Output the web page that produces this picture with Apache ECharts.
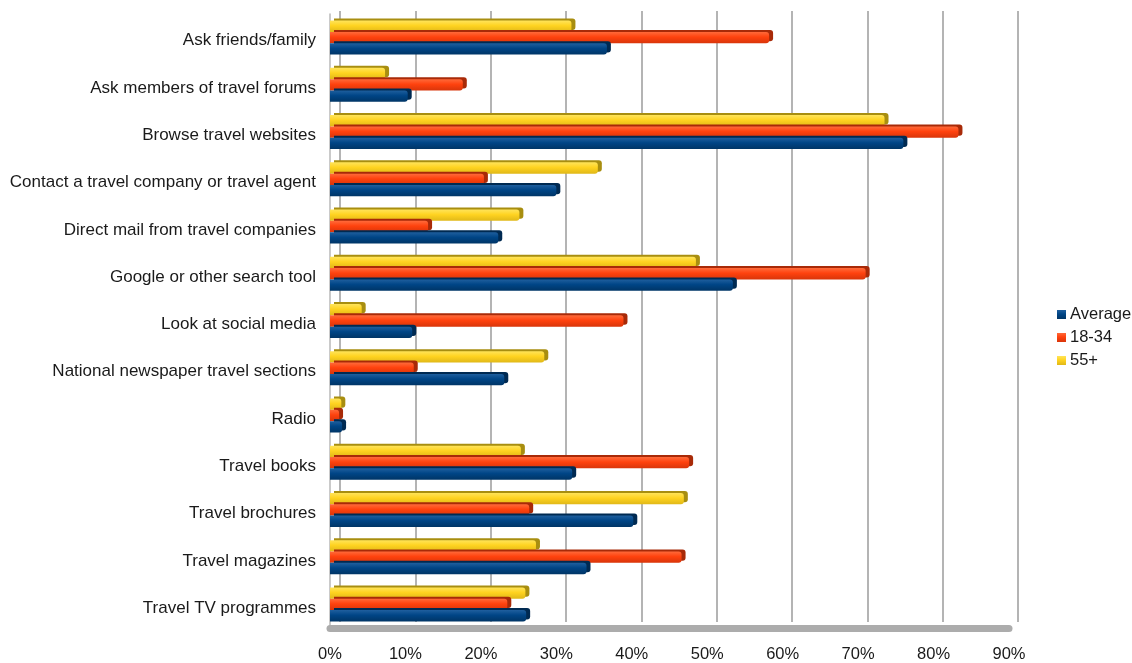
<!DOCTYPE html>
<html>
<head>
<meta charset="utf-8">
<script src="https://cdn.jsdelivr.net/npm/echarts@6/dist/echarts.min.js"></script>
<style>
html,body{margin:0;padding:0;background:#fff;}
#main{width:1132px;height:663px;}
</style>
</head>
<body>
<div id="main"></div>
<script>
const categories = [
  'Ask friends/family',
  'Ask members of travel forums',
  'Browse travel websites',
  'Contact a travel company or travel agent',
  'Direct mail from travel companies',
  'Google or other search tool',
  'Look at social media',
  'National newspaper travel sections',
  'Radio',
  'Travel books',
  'Travel brochures',
  'Travel magazines',
  'Travel TV programmes'
];
const average = [36.7, 10.3, 76.0, 30.0, 22.3, 53.4, 10.9, 23.1, 1.6, 32.1, 40.2, 34.0, 26.0];
const age18to34 = [58.2, 17.6, 83.3, 20.4, 13.0, 71.0, 38.9, 11.1, 1.2, 47.6, 26.4, 46.6, 23.5];
const age55plus = [32.0, 7.3, 73.5, 35.5, 25.1, 48.5, 4.2, 28.4, 1.5, 25.3, 46.9, 27.3, 25.9];
const tickLabels = ['0%', '10%', '20%', '30%', '40%', '50%', '60%', '70%', '80%', '90%'];

const chart = echarts.init(document.getElementById('main'));

function barStyle(light, base, dark, side) {
  return {
    color: new echarts.graphic.LinearGradient(0, 0, 0, 1, [
      { offset: 0, color: light },
      { offset: 0.45, color: base },
      { offset: 1, color: dark }
    ]),
    borderRadius: [0, 3, 3, 0],
    shadowColor: side,
    shadowBlur: 0,
    shadowOffsetX: 4,
    shadowOffsetY: -2
  };
}

const option = {
  backgroundColor: '#ffffff',
  animation: false,
  textStyle: { fontFamily: 'Liberation Sans, Arial, sans-serif' },
  legend: {
    orient: 'vertical',
    left: 1052,
    top: 301,
    itemWidth: 9,
    itemHeight: 9,
    itemGap: 6,
    icon: 'rect',
    data: ['Average', '18-34', '55+'],
    itemStyle: { shadowColor: 'rgba(0,0,0,0)', shadowBlur: 0, shadowOffsetX: 0, shadowOffsetY: 0, borderWidth: 0 },
    textStyle: { fontSize: 16.5, color: '#1a1a1a', padding: [0, 0, 0, -1], lineHeight: 17 }
  },
  grid: [
    { left: 330, right: 123, top: 14, bottom: 34 },
    { left: 340, right: 114, top: 11, bottom: 41 },
    { left: 330, right: 123, top: 17, bottom: 31 }
  ],
  xAxis: [
    {
      gridIndex: 0,
      type: 'value',
      min: 0,
      max: 90,
      interval: 10,
      axisLine: { show: true, lineStyle: { color: '#acacac', width: 7 } },
      axisTick: { show: false },
      splitLine: { show: false },
      axisLabel: {
        margin: 18,
        fontSize: 16.5,
        color: '#1a1a1a',
        formatter: function (v) { return tickLabels[Math.round(v / 10)]; }
      }
    },
    {
      gridIndex: 1,
      type: 'value',
      min: 0,
      max: 90,
      interval: 10,
      axisLine: { show: false },
      axisTick: { show: false },
      axisLabel: { show: false },
      splitLine: { show: true, lineStyle: { color: '#b4b4b4', width: 2 } }
    },
    {
      gridIndex: 2,
      type: 'value',
      min: 0,
      max: 90,
      show: false
    }
  ],
  yAxis: [
    {
      gridIndex: 0,
      type: 'category',
      data: categories,
      inverse: true,
      axisLine: { show: true, lineStyle: { color: '#b8b8b8', width: 1.5 } },
      axisTick: { show: false },
      axisLabel: { show: false }
    },
    {
      gridIndex: 1,
      type: 'category',
      data: categories,
      inverse: true,
      show: false
    },
    {
      gridIndex: 2,
      type: 'category',
      data: categories,
      inverse: true,
      axisLine: { show: false },
      axisTick: { show: false },
      splitLine: { show: false },
      axisLabel: { margin: 14, fontSize: 17, color: '#1a1a1a' }
    }
  ],
  series: [
    {
      name: '55+',
      type: 'bar',
      xAxisIndex: 0,
      yAxisIndex: 0,
      data: age55plus,
      barGap: '0%',
      barCategoryGap: '28%',
      z: 3,
      itemStyle: barStyle('#ffe45a', '#ffd320', '#e0b818', '#a88e10')
    },
    {
      name: '18-34',
      type: 'bar',
      xAxisIndex: 0,
      yAxisIndex: 0,
      data: age18to34,
      barGap: '0%',
      barCategoryGap: '28%',
      z: 4,
      itemStyle: barStyle('#ff6a3a', '#ff420e', '#d8350a', '#a82a08')
    },
    {
      name: 'Average',
      type: 'bar',
      xAxisIndex: 0,
      yAxisIndex: 0,
      data: average,
      barGap: '0%',
      barCategoryGap: '28%',
      z: 5,
      itemStyle: barStyle('#1f5f9e', '#004586', '#003566', '#002a52')
    }
  ]
};
chart.setOption(option);
</script>
</body>
</html>
